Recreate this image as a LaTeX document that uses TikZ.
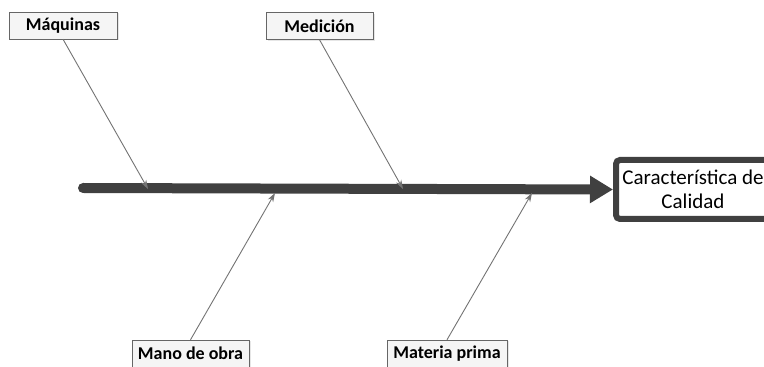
\documentclass[tikz,border=0pt]{standalone}
\usepackage{fontspec}
\setmainfont{Carlito}
\usetikzlibrary{arrows.meta,shadows}

\begin{document}
\begin{tikzpicture}[x=1pt,y=1pt,
    causa/.style={draw=black!60,fill=black!4,inner sep=0pt,minimum height=27pt,
      font=\bfseries\fontsize{18}{20}\selectfont,
      drop shadow={opacity=0.2,shadow xshift=1.5pt,shadow yshift=-1.5pt}},
    hueso/.style={draw=black!55,line width=0.9pt,-{Stealth[length=9pt,width=6pt]}}]
      \useasboundingbox (0,0) rectangle (764,367);
      \clip (0,0) rectangle (764,367);
      % efecto
      \node[draw=black!75,line width=6pt,rounded corners=4pt,fill=white,
        minimum width=154pt,minimum height=59pt,align=center,
        font=\fontsize{21}{24}\selectfont] (efecto) at (693,177.5) {Característica de\\Calidad};
      % espina
      \coordinate (cola) at (83,179);
      \draw[draw=black!75,line width=10pt,line cap=round,
        -{Triangle[length=23pt,width=26pt]}] (cola) -- (efecto.west);
      % causas
      \node[causa,minimum width=108pt] (maquinas) at (63,341.5) {Máquinas};
      \node[causa,minimum width=107pt] (medicion) at (319.5,341) {Medición};
      \node[causa,minimum width=117pt] (mano) at (190.5,13.5) {Mano de obra};
      \node[causa,minimum width=120pt] (materia) at (447,13.5) {Materia prima};
      \coordinate (p1) at (148,178);
      \coordinate (p2) at (403,178);
      \coordinate (p3) at (275,174);
      \coordinate (p4) at (532,174);
      \draw[hueso] (maquinas.south) -- (p1);
      \draw[hueso] (medicion.south) -- (p2);
      \draw[hueso] (mano.north) -- (p3);
      \draw[hueso] (materia.north) -- (p4);
    \end{tikzpicture}
\end{document}
